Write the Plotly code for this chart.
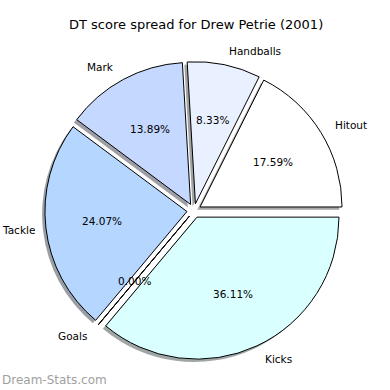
import math
import plotly.graph_objects as go

# ---- data ----
labels = ["Hitout", "Handballs", "Mark", "Tackle", "Goals", "Kicks"]
values = [38, 18, 30, 52, 0, 78]
colors = ["#ffffff", "#e9f0ff", "#c5d8ff", "#b5d6ff", "#c8e8ff", "#d9ffff"]
title_text = "DT score spread for Drew Petrie (2001)"
watermark = "Dream-Stats.com"

# ---- geometry (pixels, 390x390 canvas) ----
W = H = 390
CX, CY = 194.0, 210.7      # pie centre (pixel, y down)
R = 142.0                  # pie radius (pixel)
PULL = 0.05
E = PULL * R
SH = 0.02 * R              # shadow offset

ext = R * (1 + PULL)
total = float(sum(values))
# plotly: with counterclockwise direction the first slice ends at `rotation`
ROT = 90 - 360.0 * values[0] / total


def dom(cx, cy):
    return dict(x=[(cx - ext) / W, (cx + ext) / W],
                y=[(H - cy - ext) / H, (H - cy + ext) / H])


def shade(hexc):
    r = int(hexc[1:3], 16); g = int(hexc[3:5], 16); b = int(hexc[5:7], 16)
    return "rgba(%d,%d,%d,0.5)" % (r * 0.3, g * 0.3, b * 0.3)


fig = go.Figure()
# shadow
fig.add_trace(go.Pie(
    labels=labels, values=values, sort=False, direction="counterclockwise",
    rotation=ROT, pull=[PULL] * len(values), textinfo="none",
    marker=dict(colors=[shade(c) for c in colors], line=dict(width=0)),
    domain=dom(CX - SH, CY + SH), showlegend=False, hoverinfo="skip"))
# main pie
fig.add_trace(go.Pie(
    labels=labels, values=values, sort=False, direction="counterclockwise",
    rotation=ROT, pull=[PULL] * len(values), textinfo="none",
    marker=dict(colors=colors, line=dict(color="black", width=1)),
    domain=dom(CX, CY), showlegend=False, hoverinfo="skip"))

annots = []
shapes = []
cum = 0.0
FS = 10.5
for lab, v in zip(labels, values):
    a0 = cum / total * 360
    cum += v
    a1 = cum / total * 360
    mid = math.radians((a0 + a1) / 2)
    ux, uy = math.cos(mid), -math.sin(mid)
    ecx, ecy = CX + E * ux, CY + E * uy
    # outer label
    lx, ly = ecx + 1.1 * R * ux, ecy + 1.1 * R * uy
    anchor = "left" if ux > 0 else "right"
    est_w = len(lab) * 0.55 * FS
    if anchor == "right" and lx - est_w < 0:
        lx, anchor = 0.0, "left"
    annots.append(dict(x=lx / W, y=1 - ly / H, xref="paper", yref="paper",
                       text=lab, showarrow=False,
                       xanchor=anchor, yanchor="middle",
                       font=dict(size=FS, color="black")))
    # percentage
    px, py = ecx + 0.6 * R * ux, ecy + 0.6 * R * uy
    annots.append(dict(x=px / W, y=1 - py / H, xref="paper", yref="paper",
                       text="%.2f%%" % (v / total * 100), showarrow=False,
                       xanchor="center", yanchor="middle",
                       font=dict(size=FS, color="black")))
    if v == 0:
        shapes.append(dict(type="line", xref="paper", yref="paper",
                           x0=ecx / W, y0=1 - ecy / H,
                           x1=(ecx + R * ux) / W, y1=1 - (ecy + R * uy) / H,
                           line=dict(color="black", width=1)))

annots.append(dict(x=195.5 / W, y=1 - 25 / H, xref="paper", yref="paper",
                   text=title_text, showarrow=False, xanchor="center",
                   yanchor="middle", font=dict(size=13, color="black")))
annots.append(dict(x=0, y=1 - 380 / H, xref="paper", yref="paper",
                   text=watermark, showarrow=False, xanchor="left",
                   yanchor="middle", font=dict(size=12, color="#a0a0a0")))

fig.update_layout(
    width=W, height=H, margin=dict(l=0, r=0, t=0, b=0),
    paper_bgcolor="white", plot_bgcolor="white",
    font=dict(family="DejaVu Sans"),
    annotations=annots, shapes=shapes)

fig.write_html("out.html")
